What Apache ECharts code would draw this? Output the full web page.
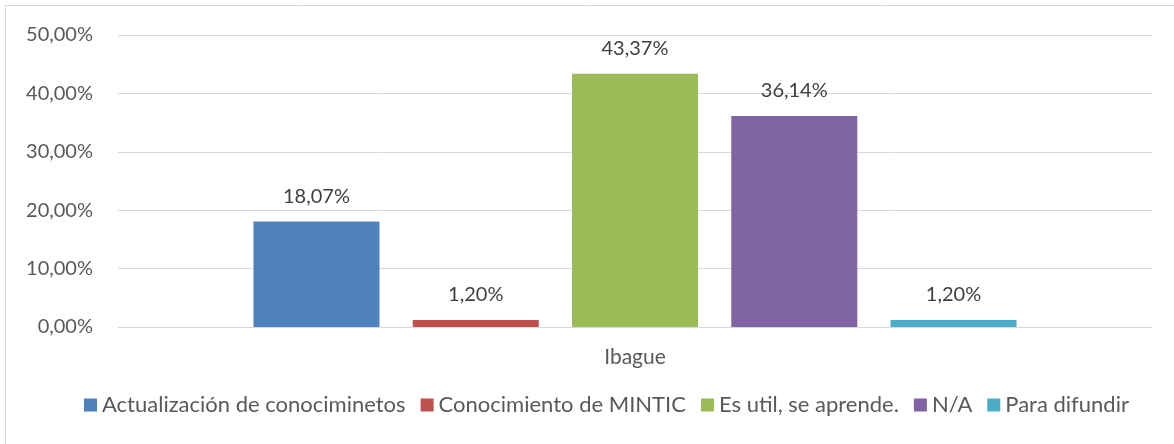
<!DOCTYPE html>
<html>
<head>
<meta charset="utf-8">
<script src="https://cdn.jsdelivr.net/npm/echarts@6/dist/echarts.min.js"></script>
<style>
  html, body { margin: 0; padding: 0; background: #fff; }
  #chart { width: 1174px; height: 444px; }
</style>
</head>
<body>
<div id="chart"></div>
<script>
// categorias y valores (porcentaje)
const categories = ['Ibague']
const seriesNames = ['Actualización de conociminetos', 'Conocimiento de MINTIC', 'Es util, se aprende.', 'N/A', 'Para difundir']
const seriesValues = [[18.07], [1.20], [43.37], [36.14], [1.20]]
const colors = ['#4f81bd', '#c0504d', '#9bbb59', '#8064a2', '#4bacc6']
const yTicks = [0, 10, 20, 30, 40, 50]

const fontFamily = 'Lato, "Open Sans", sans-serif'
const fmt = v => v.toFixed(2).replace('.', ',') + '%'

const chart = echarts.init(document.getElementById('chart'), null, { renderer: 'canvas' })

const series = seriesNames.map((name, i) => ({
  name: name,
  type: 'bar',
  data: seriesValues[i],
  barWidth: 126,
  barGap: '26.4%',
  itemStyle: { color: colors[i] },
  label: {
    show: true,
    position: 'top',
    distance: 15,
    color: '#404040',
    fontSize: 20,
    fontFamily: fontFamily,
    formatter: p => fmt(p.value)
  }
}))

chart.setOption({
  animation: false,
  color: colors,
  // borde del grafico (solo izquierdo y superior visibles)
  graphic: [{
    type: 'rect',
    shape: { x: 5.5, y: 5.5, width: 1180, height: 450 },
    style: { fill: 'none', stroke: '#d9d9d9', lineWidth: 1 },
    silent: true
  }],
  grid: { left: 118, right: 22, top: 35, bottom: 117 },
  legend: {
    bottom: 23,
    left: 79,
    itemWidth: 13,
    itemHeight: 13,
    itemGap: 15,
    icon: 'rect',
    textStyle: { color: '#595959', fontSize: 22, fontFamily: fontFamily },
    data: seriesNames
  },
  xAxis: {
    type: 'category',
    data: categories,
    axisLine: { lineStyle: { color: '#d9d9d9', width: 1 } },
    axisTick: { show: false },
    axisLabel: { color: '#595959', fontSize: 21, fontFamily: fontFamily, margin: 20 }
  },
  yAxis: {
    type: 'value',
    min: yTicks[0],
    max: yTicks[yTicks.length - 1],
    interval: 10,
    axisLine: { show: false },
    axisTick: { show: false },
    splitLine: { lineStyle: { color: '#d9d9d9', width: 1 } },
    axisLabel: { color: '#595959', fontSize: 20, fontFamily: fontFamily, margin: 25, formatter: v => fmt(v) }
  },
  series: series
})
</script>
</body>
</html>
